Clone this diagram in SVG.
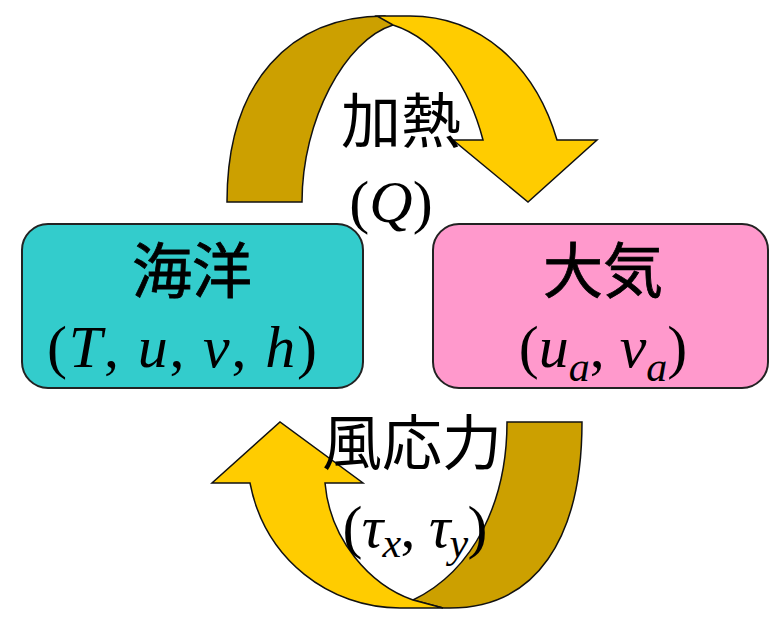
<svg xmlns="http://www.w3.org/2000/svg" width="770" height="617" viewBox="0 0 770 617">
<style>
.back{fill:#CCA000;stroke:#111;stroke-width:1.5;stroke-linejoin:miter}
.front{fill:#FFCC00;stroke:#111;stroke-width:1.5;stroke-linejoin:miter}
.box{stroke:#222;stroke-width:2}
.cjk{font-family:"Noto Sans CJK JP","Noto Sans CJK SC",sans-serif;font-size:60px;fill:#000;text-anchor:middle}
.title{font-weight:400;stroke:#000;stroke-width:0.8}
.math{font-family:"Liberation Serif","Times New Roman",serif;font-size:60px;fill:#000}
.it{font-style:italic}
.sub{font-style:italic;font-size:42px}
</style>
<rect width="770" height="617" fill="#fff"/>
<g id="connectors">
  <g id="heating">
    <path class="back" d="M227,202 C227,82 290,16 385,16 L393,25 C345,40 302,120 302,202 Z"/>
    <path class="front" d="M377,16 L410,16 C480,16 535,65 557,140 L597,140 L528,202 L453,140 L483,140 C470,90 440,40 393,25 Z"/>
  </g>
  <g id="windstress">
    <path class="back" d="M507,422 L582,422 C582,540 535,608 450,608 L443,608 L413,600 C475,570 507,500 507,422 Z"/>
    <path class="front" d="M443,608 L400,608 C330,608 265,560 250,483 L212,483 L280,422 L363,483 L325,483 C330,540 370,585 413,600 Z"/>
  </g>
</g>
<g id="ocean">
  <rect class="box" x="22" y="224" width="341" height="164" rx="26" fill="#33CCCC"/>
  <text class="cjk title" x="192" y="293">海洋</text>
  <text class="math" x="182" y="367" text-anchor="middle" textLength="270" lengthAdjust="spacing">(<tspan class="it">T</tspan>, <tspan class="it">u</tspan>, <tspan class="it">v</tspan>, <tspan class="it">h</tspan>)</text>
</g>
<g id="atmosphere">
  <rect class="box" x="433" y="224" width="335" height="164" rx="26" fill="#FF99CC"/>
  <text class="cjk title" x="603" y="293">大気</text>
  <text class="math" x="603" y="367" text-anchor="middle">(<tspan class="it">u</tspan><tspan class="sub" dy="14">a</tspan><tspan dy="-14">, </tspan><tspan class="it">v</tspan><tspan class="sub" dy="14">a</tspan><tspan dy="-14">)</tspan></text>
</g>
<g id="labels">
  <text class="cjk" x="401" y="143">加熱</text>
  <text class="math" x="391" y="222" text-anchor="middle">(<tspan class="it">Q</tspan>)</text>
  <text class="cjk" x="412" y="465">風応力</text>
  <text class="math" x="415" y="547" text-anchor="middle" textLength="145" lengthAdjust="spacing">(<tspan class="it">τ</tspan><tspan class="sub" dy="10">x</tspan><tspan dy="-10">, </tspan><tspan class="it">τ</tspan><tspan class="sub" dy="10">y</tspan><tspan dy="-10">)</tspan></text>
</g>
</svg>
